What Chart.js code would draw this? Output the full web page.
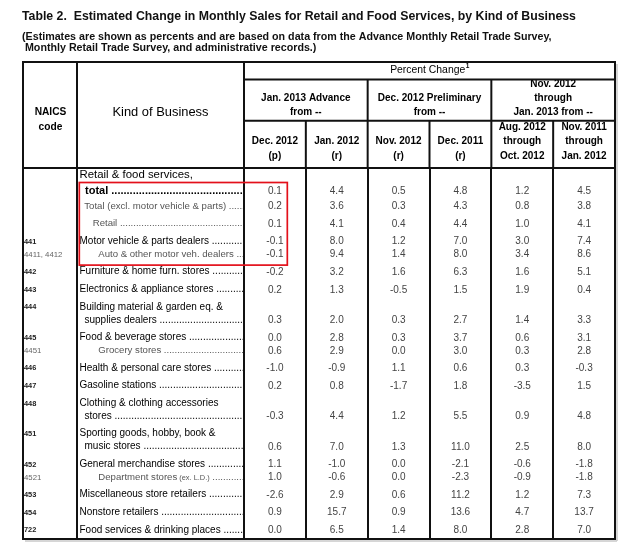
<!DOCTYPE html>
<html><head><meta charset="utf-8">
<script src="https://cdn.jsdelivr.net/npm/chart.js@4.4.1/dist/chart.umd.min.js"></script>
<style>html,body{margin:0;padding:0;background:#fff}#wrap{width:640px;height:552px}</style>
</head><body><div id="wrap"><canvas id="c" width="640" height="552"></canvas></div>
<script>
// ---------------- data ----------------
const titleText = 'Table 2.  Estimated Change in Monthly Sales for Retail and Food Services, by Kind of Business';
const subtitleLines = ['(Estimates are shown as percents and are based on data from the Advance Monthly Retail Trade Survey,',
  ' Monthly Retail Trade Survey, and administrative records.)'];
const columnLabels = [['Dec. 2012', '(p)'], ['Jan. 2012', '(r)'], ['Nov. 2012', '(r)'], ['Dec. 2011', '(r)'],
  ['Aug. 2012', 'through', 'Oct. 2012'], ['Nov. 2011', 'through', 'Jan. 2012']];
const columnGroups = [['Jan. 2013 Advance', 'from --'], ['Dec. 2012 Preliminary', 'from --'], ['Nov. 2012', 'through', 'Jan. 2013 from --']];
const headerNaics = ['NAICS', 'code'];
const headerKind = 'Kind of Business';
const headerPercent = 'Percent Change';
const naicsCodes = ['', '', '', '441', '4411, 4412', '442', '443', '444', '445', '4451', '446', '447', '448',
  '451', '452', '4521', '453', '454', '722'];
const kindOfBusiness = [
  ['Retail & food services,', 'total'],
  ['Total (excl. motor vehicle & parts)'],
  ['Retail'],
  ['Motor vehicle & parts dealers'],
  ['Auto & other motor veh. dealers'],
  ['Furniture & home furn. stores'],
  ['Electronics & appliance stores'],
  ['Building material & garden eq. &', 'supplies dealers'],
  ['Food & beverage stores'],
  ['Grocery stores'],
  ['Health & personal care stores'],
  ['Gasoline stations'],
  ['Clothing & clothing accessories', 'stores'],
  ['Sporting goods, hobby, book &', 'music stores'],
  ['General merchandise stores'],
  ['Department stores (ex. L.D.)'],
  ['Miscellaneous store retailers'],
  ['Nonstore retailers'],
  ['Food services & drinking places']
];
const advFromDec2012 = [0.1, 0.2, 0.1, -0.1, -0.1, -0.2, 0.2, 0.3, 0.0, 0.6, -1.0, 0.2, -0.3, 0.6, 1.1, 1.0, -2.6, 0.9, 0.0];
const advFromJan2012 = [4.4, 3.6, 4.1, 8.0, 9.4, 3.2, 1.3, 2.0, 2.8, 2.9, -0.9, 0.8, 4.4, 7.0, -1.0, -0.6, 2.9, 15.7, 6.5];
const prelimFromNov2012 = [0.5, 0.3, 0.4, 1.2, 1.4, 1.6, -0.5, 0.3, 0.3, 0.0, 1.1, -1.7, 1.2, 1.3, 0.0, 0.0, 0.6, 0.9, 1.4];
const prelimFromDec2011 = [4.8, 4.3, 4.4, 7.0, 8.0, 6.3, 1.5, 2.7, 3.7, 3.0, 0.6, 1.8, 5.5, 11.0, -2.1, -2.3, 11.2, 13.6, 8.0];
const threeMoFromAugOct2012 = [1.2, 0.8, 1.0, 3.0, 3.4, 1.6, 1.9, 1.4, 0.6, 0.3, 0.3, -3.5, 0.9, 2.5, -0.6, -0.9, 1.2, 4.7, 2.8];
const threeMoFromNovJan2012 = [4.5, 3.8, 4.1, 7.4, 8.6, 5.1, 0.4, 3.3, 3.1, 2.8, -0.3, 1.5, 4.8, 8.0, -1.8, -1.8, 7.3, 13.7, 7.0];
const series = [advFromDec2012, advFromJan2012, prelimFromNov2012, prelimFromDec2011, threeMoFromAugOct2012, threeMoFromNovJan2012];

// ---------------- layout / style (not data) ----------------
const FONT = "'Liberation Sans', Arial, sans-serif";
const rowStyle = ['total', 'sub', 'sub', 'main', 'sub', 'main', 'main', 'main', 'main', 'sub', 'main', 'main', 'main',
  'main', 'main', 'sub', 'main', 'main', 'main'];
const rowIndent = [8, 7.3, 15.7, 2.5, 21.3, 2.5, 2.5, 2.5, 2.5, 21.3, 2.5, 2.5, 2.5, 2.5, 2.5, 21.3, 2.5, 2.5, 2.5];
const rowGap = ['mid', 'mid', 'loose', 'loose', 'tight', 'loose', 'loose', 'loose', 'loose', 'tight', 'loose', 'loose',
  'loose', 'loose', 'loose', 'tight', 'loose', 'loose', 'loose'];
const L = {
  naicsWidth: 54, unitPx: 17.6, gaps: {loose: 1, mid: 0.881, tight: 0.733},
  headerHeight: 106, pcRow: 17.5, groupRow: 58.7, yAxisWidth: 222,
  line: '#111', lineW: 2
};

// category keys for the x scale (multi-line labels are shown through the tick callback)
const columnKeys = columnLabels.map(l => l.join(' '));

// line positions (in row units) derived from the row structure
const textLines = [];
const valuePos = [];
let pos = 0;
kindOfBusiness.forEach((ls, i) => {
  ls.forEach((t, j) => {
    if (i === 0 && j === 0) pos = 0;
    else if (j > 0) pos += (i === 0 ? L.gaps.mid : L.gaps.tight);
    else pos += L.gaps[rowGap[i]];
    textLines.push({entry: i, line: j, pos, text: t});
  });
  valuePos.push(pos);
});
const yMin = -7 / L.unitPx;
const yMax = pos + 9.2 / L.unitPx;

const tablePlugin = {
  id: 'tableText',
  afterDraw(chart) {
    const ctx = chart.ctx;
    const ca = chart.chartArea;
    const xs = chart.scales.x, ys = chart.scales.y;
    const frameL = ys.left + 1;
    const naicsX = frameL + L.naicsWidth;
    const top = xs.top;
    const bottom = ca.bottom;
    const colEdge = v => xs.getPixelForValue(v);
    ctx.save();

    // ----- values -----
    ctx.font = `10px ${FONT}`;
    ctx.fillStyle = '#444';
    ctx.textAlign = 'center';
    ctx.textBaseline = 'middle';
    chart.data.datasets.forEach((ds, k) => {
      const meta = chart.getDatasetMeta(k);
      meta.data.forEach((el, i) => {
        ctx.fillText(ds.data[i].value.toFixed(1), el.x, el.y + 0.5);
      });
    });

    // ----- NAICS codes -----
    ctx.textAlign = 'left';
    naicsCodes.forEach((code, i) => {
      if (!code) return;
      const first = textLines.find(t => t.entry === i && t.line === 0);
      const y = ys.getPixelForValue(first.pos);
      if (rowStyle[i] === 'sub') { ctx.font = `7.8px ${FONT}`; ctx.fillStyle = '#666'; }
      else { ctx.font = `bold 7.4px ${FONT}`; ctx.fillStyle = '#222'; }
      ctx.fillText(code, frameL + 1, y + 0.5);
    });

    // ----- Kind of business labels with dot leaders -----
    ctx.save();
    ctx.beginPath();
    ctx.rect(naicsX + 1, ca.top, ca.left - naicsX - 2, ca.bottom - ca.top);
    ctx.clip();
    textLines.forEach(t => {
      const st = rowStyle[t.entry];
      const nLines = kindOfBusiness[t.entry].length;
      const last = t.line === nLines - 1;
      let font, color, x;
      if (st === 'total') {
        if (t.line === 0) { font = `11.4px ${FONT}`; color = '#000'; x = naicsX + 2.5; }
        else { font = `bold 11px ${FONT}`; color = '#000'; x = naicsX + rowIndent[t.entry]; }
      } else if (st === 'sub') {
        font = `9.6px ${FONT}`; color = '#555'; x = naicsX + rowIndent[t.entry];
      } else {
        font = `10px ${FONT}`; color = '#000'; x = naicsX + (t.line === 0 ? rowIndent[t.entry] : 7.5);
      }
      const y = ys.getPixelForValue(t.pos);
      ctx.fillStyle = color;
      ctx.font = font;
      const text = t.text;
      let endX;
      const m = text.match(/^(.*?)(\s\(ex\. L\.D\.\))$/);
      if (m) {
        ctx.fillText(m[1], x, y);
        const w1 = ctx.measureText(m[1]).width;
        ctx.font = `7.4px ${FONT}`;
        ctx.fillText(m[2], x + w1, y + 0.8);
        endX = x + w1 + ctx.measureText(m[2]).width;
        ctx.font = font;
      } else {
        ctx.fillText(text, x, y);
        endX = x + ctx.measureText(text).width;
      }
      if (last) {
        ctx.fillText(' ' + '.'.repeat(80), endX, y);
      }
    });
    ctx.restore();

    // ----- header text -----
    ctx.fillStyle = '#000';
    ctx.textAlign = 'center';
    ctx.textBaseline = 'middle';
    ctx.font = `bold 10.2px ${FONT}`;
    headerNaics.forEach((s, i) => ctx.fillText(s, (frameL + naicsX) / 2 + 0.5, top + 50.3 + i * 14.4));
    ctx.font = `12.9px ${FONT}`;
    ctx.fillText(headerKind, (naicsX + ca.left) / 2, top + 50.9);
    ctx.font = `10.4px ${FONT}`;
    const pw = ctx.measureText(headerPercent).width;
    ctx.font = `bold 6.5px ${FONT}`;
    const sw = ctx.measureText('1').width;
    const pcx = (ca.left + ca.right) / 2 - (pw + sw) / 2;
    ctx.textAlign = 'left';
    ctx.font = `10.4px ${FONT}`;
    ctx.fillText(headerPercent, pcx, top + 7.8);
    ctx.font = `bold 6.5px ${FONT}`;
    ctx.fillText('1', pcx + pw + 0.5, top + 4.5);
    ctx.textAlign = 'center';
    ctx.font = `bold 10px ${FONT}`;
    const grpBottom = top + L.groupRow;
    columnGroups.forEach((g, gi) => {
      const cx = (colEdge(gi * 2 - 0.5) + colEdge(gi * 2 + 1.5)) / 2;
      g.forEach((s, j) => {
        ctx.fillText(s, cx, grpBottom - 8 - (g.length - 1 - j) * 14.4);
      });
    });

    // ----- lines -----
    ctx.strokeStyle = L.line;
    ctx.lineWidth = L.lineW;
    const seg = (x1, y1, x2, y2) => { ctx.beginPath(); ctx.moveTo(x1, y1); ctx.lineTo(x2, y2); ctx.stroke(); };
    ctx.save();
    ctx.strokeStyle = '#c8c8c8'; ctx.lineWidth = 1.5;
    seg(frameL + 2, bottom + 2, ca.right + 2, bottom + 2);
    seg(ca.right + 2, top + 2, ca.right + 2, bottom + 2);
    ctx.restore();
    ctx.strokeRect(frameL, top, ca.right - frameL, bottom - top);
    seg(naicsX, top, naicsX, bottom);
    seg(ca.left, top, ca.left, bottom);
    seg(frameL, ca.top, ca.right, ca.top);
    seg(ca.left, top + L.pcRow, ca.right, top + L.pcRow);
    seg(ca.left, grpBottom, ca.right, grpBottom);
    [1.5, 3.5].forEach(v => seg(colEdge(v), top + L.pcRow, colEdge(v), ca.top));
    [0.5, 2.5, 4.5].forEach(v => seg(colEdge(v), grpBottom, colEdge(v), ca.top));

    // ----- highlight box -----
    ctx.strokeStyle = '#e3101a';
    ctx.lineWidth = 1.7;
    const hx1 = naicsX + 2.3;
    const hx2 = xs.getPixelForValue(0) + 12.4;
    const hy1 = ys.getPixelForValue(valuePos[0]) - 8;
    const hy2 = ys.getPixelForValue(valuePos[4]) + 11;
    ctx.strokeRect(hx1, hy1, hx2 - hx1, hy2 - hy1);
    ctx.restore();
  }
};

new Chart(document.getElementById('c'), {
  type: 'scatter',
  data: {
    labels: columnKeys,
    datasets: series.map((vals, k) => ({
      label: columnKeys[k],
      data: vals.map((v, i) => ({x: columnKeys[k], y: valuePos[i], value: v})),
      pointRadius: 0, pointHoverRadius: 0, showLine: false
    }))
  },
  options: {
    responsive: false,
    animation: false,
    events: [],
    layout: {padding: {left: 22, right: 25, top: 0, bottom: 13}},
    plugins: {
      legend: {display: false},
      tooltip: {enabled: false},
      title: {
        display: true, text: titleText, align: 'start', color: '#111',
        font: {family: FONT, size: 12.3, weight: 'bold', lineHeight: 1.2},
        padding: {top: 9, bottom: 8}
      },
      subtitle: {
        display: true, text: subtitleLines, align: 'start', color: '#111',
        font: {family: FONT, size: 10.7, weight: 'bold', lineHeight: 11 / 10.7},
        padding: {top: 0, bottom: 8.24}
      }
    },
    scales: {
      x: {
        type: 'category', position: 'top', offset: true,
        grid: {offset: true, color: L.line, lineWidth: L.lineW, drawTicks: false},
        border: {display: true, color: L.line, width: L.lineW},
        ticks: {font: {family: FONT, size: 10, weight: 'bold', lineHeight: 1.45}, color: '#000', padding: 5,
          maxRotation: 0, minRotation: 0, autoSkip: false,
          callback: (value, index) => columnLabels[index]},
        afterFit(s) { s.height = L.headerHeight; }
      },
      y: {
        type: 'linear', reverse: true, min: yMin, max: yMax,
        ticks: {display: false}, grid: {display: false}, border: {display: false},
        afterFit(s) { s.width = L.yAxisWidth; }
      }
    }
  },
  plugins: [tablePlugin]
});
</script>
</body></html>
